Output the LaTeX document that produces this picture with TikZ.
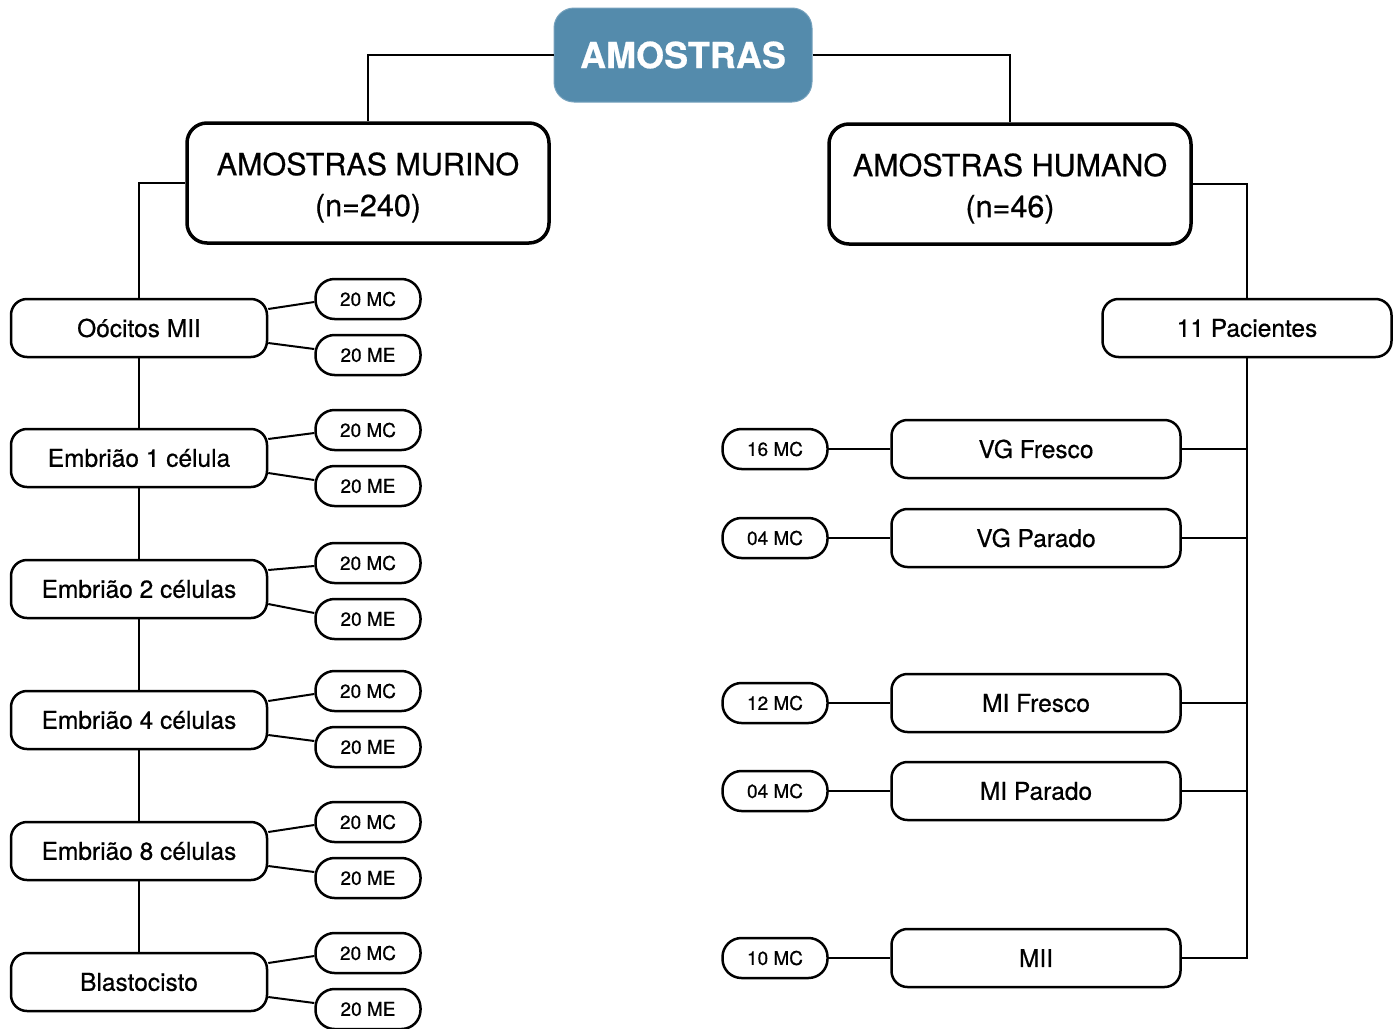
\documentclass[tikz,border=0pt]{standalone}
\usepackage{fontspec}
\setmainfont{TeX Gyre Heros}[FakeBold=0.6]
\definecolor{topblue}{RGB}{84,139,172}
\begin{document}
\begin{tikzpicture}[x=1pt,y=-1pt,
  conn/.style={line width=2pt,black},
  topbox/.style={rounded corners=20pt,fill=topblue,draw=topblue!80!white,line width=1pt,minimum width=258pt,minimum height=94pt,inner sep=0pt,text=white,font=\fontsize{36}{40}\selectfont\bfseries},
  bigbox/.style={rounded corners=20pt,draw,line width=3.5pt,minimum width=362pt,minimum height=120pt,inner sep=0pt},
  bigtext/.style={inner sep=0pt,align=center,font=\fontsize{30.5}{41}\selectfont},
  midbox/.style={rounded corners=16pt,draw,line width=2.5pt,minimum height=58pt,inner sep=0pt,font=\fontsize{24.5}{28}\selectfont},
  leftbox/.style={midbox,minimum width=256pt},
  rightbox/.style={midbox,minimum width=289pt},
  smallbox/.style={rounded corners=19pt,draw,line width=2.5pt,minimum width=105pt,minimum height=40pt,inner sep=0pt,font=\fontsize{19}{22}\selectfont}
]
\useasboundingbox (0,0) rectangle (1400,1028);

\node[topbox] (top) at (683,55) {AMOSTRAS};
\node[bigbox] (mur) at (368,183) {};
\node[bigtext] (murtext) at (368,187.5) {AMOSTRAS MURINO\\(n=240)};
\node[bigbox] (hum) at (1010,184) {};
\node[bigtext] (humtext) at (1010,188.5) {AMOSTRAS HUMANO\\(n=46)};

\draw[conn] (top.west) -| (mur.north);
\draw[conn] (top.east) -| (hum.north);

% left column
\node[leftbox] (l1) at (139,328) {Oócitos MII};
\node[leftbox] (l2) at (139,458) {Embrião 1 célula};
\node[leftbox] (l3) at (139,589) {Embrião 2 células};
\node[leftbox] (l4) at (139,720) {Embrião 4 células};
\node[leftbox] (l5) at (139,851) {Embrião 8 células};
\node[leftbox] (l6) at (139,982) {Blastocisto};

\draw[conn] (mur.west) -| (l1.north);
\draw[conn] (l1.south) -- (l2.north);
\draw[conn] (l2.south) -- (l3.north);
\draw[conn] (l3.south) -- (l4.north);
\draw[conn] (l4.south) -- (l5.north);
\draw[conn] (l5.south) -- (l6.north);

\node[smallbox] (c1) at (368,299) {20 MC};
\node[smallbox] (e1) at (368,355) {20 ME};
\node[smallbox] (c2) at (368,430) {20 MC};
\node[smallbox] (e2) at (368,486) {20 ME};
\node[smallbox] (c3) at (368,563) {20 MC};
\node[smallbox] (e3) at (368,619) {20 ME};
\node[smallbox] (c4) at (368,691) {20 MC};
\node[smallbox] (e4) at (368,747) {20 ME};
\node[smallbox] (c5) at (368,822) {20 MC};
\node[smallbox] (e5) at (368,878) {20 ME};
\node[smallbox] (c6) at (368,953) {20 MC};
\node[smallbox] (e6) at (368,1009) {20 ME};

\foreach \i in {1,...,6}{
  \draw[conn] ([yshift=19pt]l\i.east) -- ([yshift=-3pt]c\i.west);
  \draw[conn] ([yshift=-15pt]l\i.east) -- ([yshift=6pt]e\i.west);
}

% right column
\node[rightbox] (pac) at (1247,328) {11 Pacientes};
\draw[conn] (hum.east) -| (pac.north);

\node[rightbox] (r1) at (1036,449) {VG Fresco};
\node[rightbox] (r2) at (1036,538) {VG Parado};
\node[rightbox] (r3) at (1036,703) {MI Fresco};
\node[rightbox] (r4) at (1036,791) {MI Parado};
\node[rightbox] (r5) at (1036,958) {MII};

\node[smallbox] (s1) at (775,449) {16 MC};
\node[smallbox] (s2) at (775,538) {04 MC};
\node[smallbox] (s3) at (775,703) {12 MC};
\node[smallbox] (s4) at (775,791) {04 MC};
\node[smallbox] (s5) at (775,958) {10 MC};

\draw[conn] (pac.south) |- (r5.east);
\foreach \i in {1,...,4}{
  \draw[conn] (r\i.east) -- (r\i.east -| pac.south);
}
\foreach \i in {1,...,5}{
  \draw[conn] (s\i.east) -- (r\i.west);
}
\end{tikzpicture}
\end{document}
